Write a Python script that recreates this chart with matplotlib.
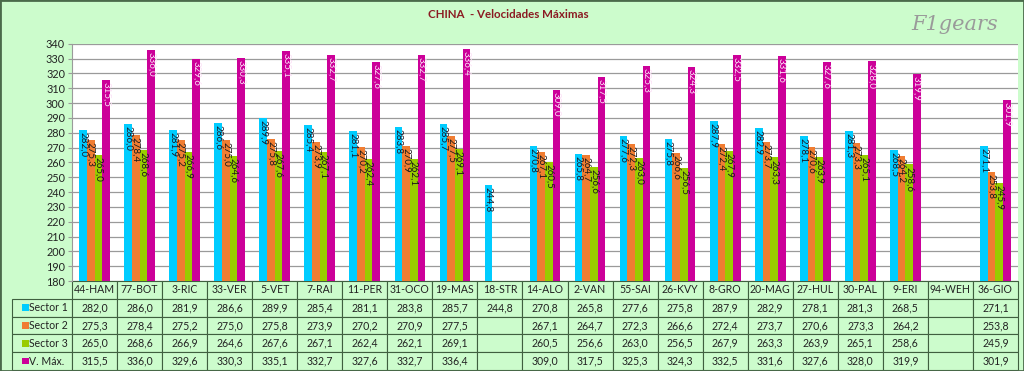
import numpy as np
import matplotlib
matplotlib.use("Agg")
import matplotlib.pyplot as plt
from matplotlib.patches import Rectangle

plt.rcParams['font.family'] = ['Lato', 'DejaVu Sans']

# ---------------- data ----------------
drivers = ["44-HAM", "77-BOT", "3-RIC", "33-VER", "5-VET", "7-RAI", "11-PER", "31-OCO",
           "19-MAS", "18-STR", "14-ALO", "2-VAN", "55-SAI", "26-KVY", "8-GRO", "20-MAG",
           "27-HUL", "30-PAL", "9-ERI", "94-WEH", "36-GIO"]
nan = np.nan
sector1 = [282.0, 286.0, 281.9, 286.6, 289.9, 285.4, 281.1, 283.8, 285.7, 244.8,
           270.8, 265.8, 277.6, 275.8, 287.9, 282.9, 278.1, 281.3, 268.5, nan, 271.1]
sector2 = [275.3, 278.4, 275.2, 275.0, 275.8, 273.9, 270.2, 270.9, 277.5, nan,
           267.1, 264.7, 272.3, 266.6, 272.4, 273.7, 270.6, 273.3, 264.2, nan, 253.8]
sector3 = [265.0, 268.6, 266.9, 264.6, 267.6, 267.1, 262.4, 262.1, 269.1, nan,
           260.5, 256.6, 263.0, 256.5, 267.9, 263.3, 263.9, 265.1, 258.6, nan, 245.9]
vmax = [315.5, 336.0, 329.6, 330.3, 335.1, 332.7, 327.6, 332.7, 336.4, nan,
        309.0, 317.5, 325.3, 324.3, 332.5, 331.6, 327.6, 328.0, 319.9, nan, 301.9]
series_names = ["Sector 1", "Sector 2", "Sector 3", "V. Máx."]
title = "CHINA  - Velocidades Máximas"

colors = ["#00CCFF", "#F07D32", "#99CC00", "#CC0099"]
label_colors = ["#1A1A2A", "#1A1A1A", "#1A1A1A", "#FBE0F6"]
bg = "#CCFCCC"

# ---------------- figure ----------------
W, H = 1024, 371
fig = plt.figure(figsize=(W / 100, H / 100), dpi=100, facecolor=bg)
ax_l, ax_r, ax_t, ax_b = 72, 1018, 43.7, 281
ax = fig.add_axes([ax_l / W, 1 - ax_b / H, (ax_r - ax_l) / W, (ax_b - ax_t) / H])
ax.set_facecolor("white")

n = len(drivers)
x = np.arange(n)
data = [sector1, sector2, sector3, vmax]
bw = 0.17
offs = (np.arange(4) - 1.5) * bw
for i, (vals, c, lc) in enumerate(zip(data, colors, label_colors)):
    vals = np.array(vals, dtype=float)
    ax.bar(x + offs[i], vals, width=bw, color=c, zorder=3, linewidth=0)
    for xi, v in zip(x + offs[i], vals):
        if np.isnan(v):
            continue
        ax.annotate(f"{v:.1f}".replace(".", ","), xy=(xi, v), xytext=(0, -1.5),
                    textcoords="offset points", rotation=270, ha="center", va="top",
                    fontsize=7, color=lc, zorder=4)

ax.set_xlim(-0.5, n - 0.5)
ax.set_ylim(180, 340)
ax.set_yticks(np.arange(180, 341, 10))
ax.set_xticks([])
ax.grid(axis="y", color="#9A9A9A", linewidth=0.9, zorder=0)
ax.tick_params(axis="y", labelsize=7.8, length=3, color="#9A9A9A", labelcolor="#222222", pad=2)
for s in ["top", "right"]:
    ax.spines[s].set_visible(False)
ax.spines["left"].set_color("#9A9A9A")
ax.spines["bottom"].set_visible(False)

# ---------------- table ----------------
cell_text = [[("" if np.isnan(v) else f"{v:.1f}".replace(".", ",")) for v in vals] for vals in data]
axw = ax_r - ax_l
axh = ax_b - ax_t
tbl_bottom = 370
grid_h = (tbl_bottom - ax_b) / axh
bbox = [0, -grid_h, 1, grid_h]
row_lbl_w = 54.0 / axw
col_w = 1.0 / n
tbl = ax.table(cellText=cell_text, rowLabels=["    " + s for s in series_names],
               colLabels=drivers, cellLoc="center", rowLoc="left",
               colWidths=[col_w] * n, bbox=bbox)
tbl.auto_set_font_size(False)
tbl.set_fontsize(7.6)
for (r, c), cell in tbl.get_celld().items():
    if c == -1:
        cell.set_width(row_lbl_w)
    cell.set_facecolor(bg)
    cell.set_edgecolor("#3F5F3F")
    cell.set_linewidth(0.8)
    cell.get_text().set_color("#222222")

# colour keys in the row-label cells
row_h = grid_h / 5
for i, c in enumerate(colors):
    yc = -row_h * (i + 1.5)
    ax.add_patch(Rectangle((-row_lbl_w + 4 / axw, yc - 3.2 / axh), 6.5 / axw, 6.5 / axh,
                           transform=ax.transAxes, facecolor=c, edgecolor="none",
                           clip_on=False, zorder=5))

# ---------------- title & decorations ----------------
fig.text(508 / W, 1 - 14 / H, title, color="#8B1A22", fontweight="bold",
         fontsize=8.3, ha="center", va="center")
fig.text(955 / W, 1 - 24 / H, "F1gears", color="#9A9A9A", fontsize=15,
         style="italic", family="DejaVu Serif", ha="center", va="center")
fig.add_artist(Rectangle((0, 0), 1, 1, transform=fig.transFigure, fill=False,
                         edgecolor="#4A6A4A", linewidth=2))

fig.savefig("out.png", dpi=100, facecolor=bg)
